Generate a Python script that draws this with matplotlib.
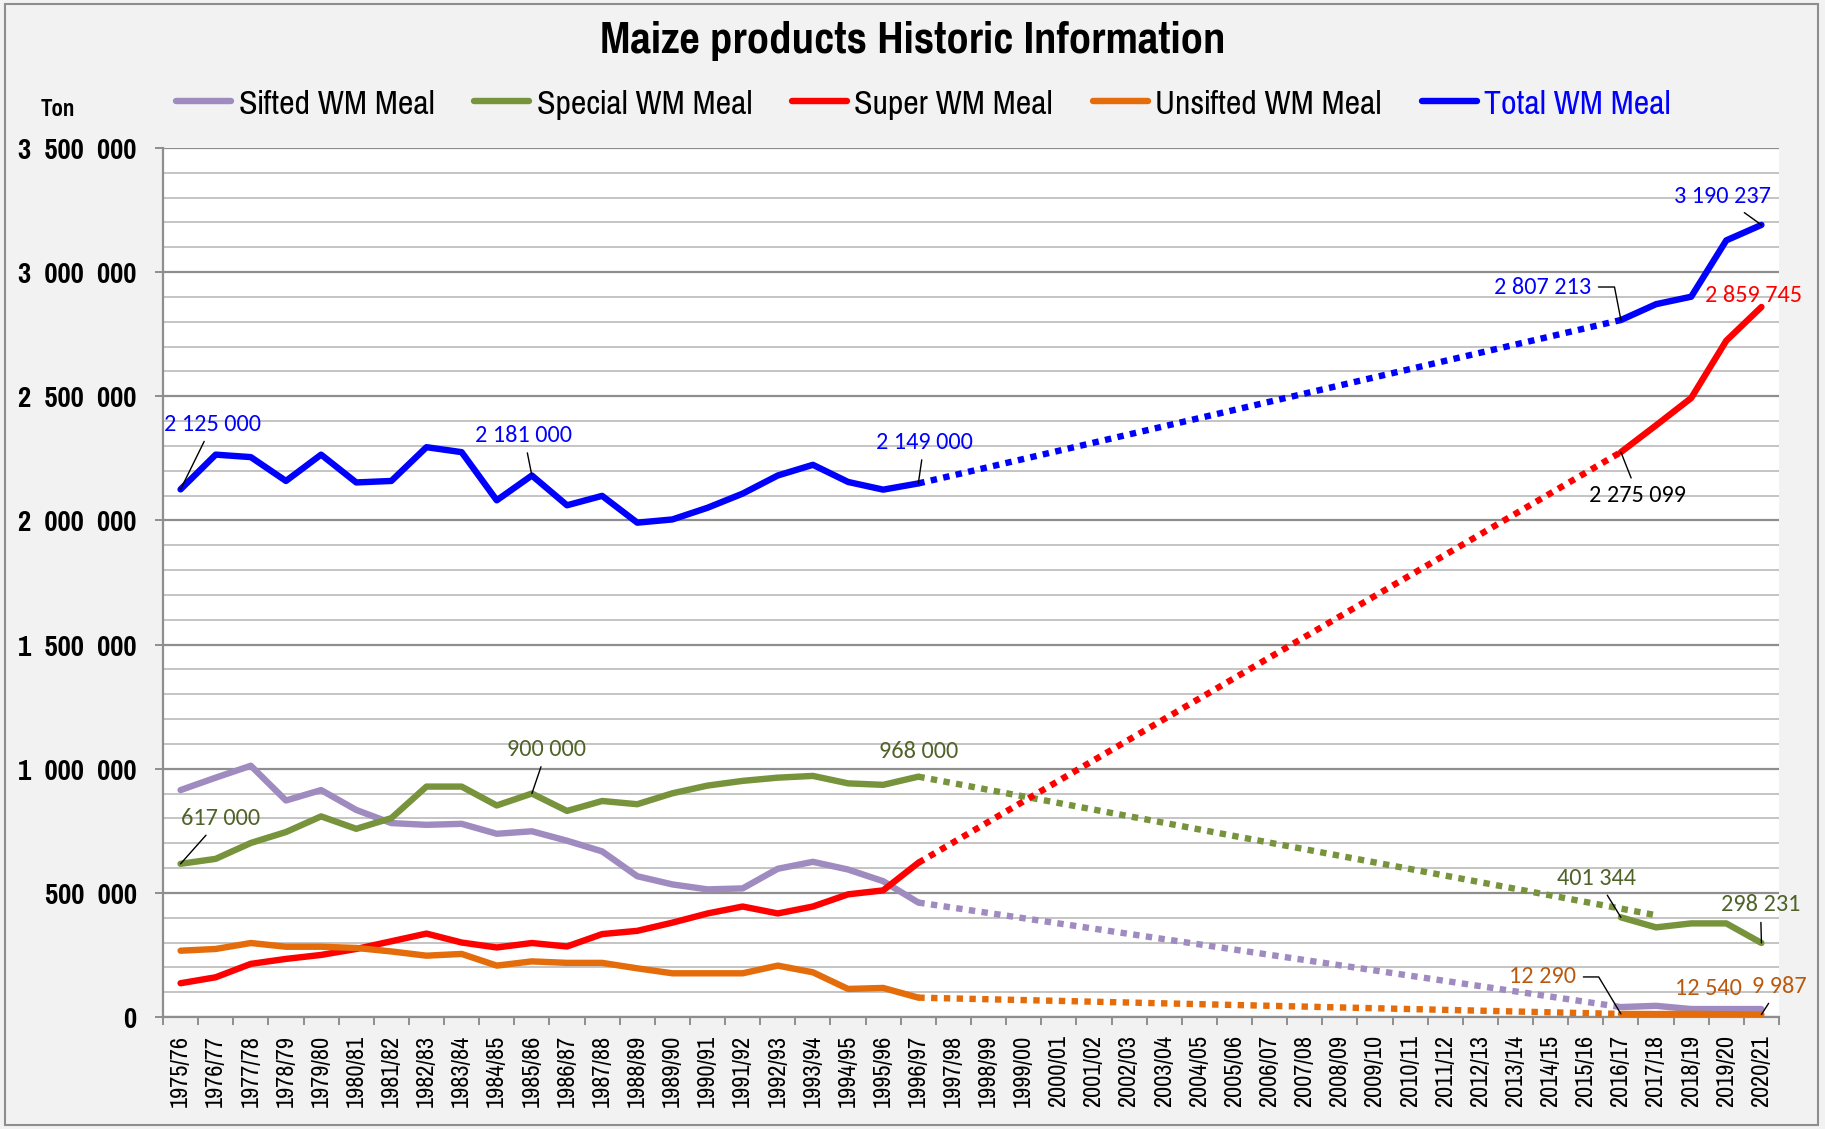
import numpy as np
import matplotlib.pyplot as plt
import matplotlib.font_manager as fm
from matplotlib.patches import Rectangle

nan = np.nan

# season labels
seasons = ['1975/76', '1976/77', '1977/78', '1978/79', '1979/80', '1980/81', '1981/82', '1982/83',
           '1983/84', '1984/85', '1985/86', '1986/87', '1987/88', '1988/89', '1989/90', '1990/91',
           '1991/92', '1992/93', '1993/94', '1994/95', '1995/96', '1996/97', '1997/98', '1998/99',
           '1999/00', '2000/01', '2001/02', '2002/03', '2003/04', '2004/05', '2005/06', '2006/07',
           '2007/08', '2008/09', '2009/10', '2010/11', '2011/12', '2012/13', '2013/14', '2014/15',
           '2015/16', '2016/17', '2017/18', '2018/19', '2019/20', '2020/21']

gap = [nan] * 19  # no data 1997/98 - 2015/16

sifted_wm = [914000, 964000, 1012000, 872000, 914000, 834000, 781000, 774000, 778000, 738000, 748000,
             710000, 667000, 567000, 534000, 514000, 518000, 597000, 625000, 594000, 547000, 461000] \
    + gap + [40000, 45000, 32000, 32000, 32000]
special_wm = [617000, 637000, 701000, 745000, 808000, 758000, 801000, 928000, 928000, 852000, 900000,
              830000, 870000, 857000, 901000, 932000, 951000, 964000, 971000, 941000, 935000, 968000] \
    + gap + [401344, 361000, 377000, 377000, 298231]
super_wm = [136000, 160000, 214000, 234000, 250000, 274000, 305000, 336000, 300000, 280000, 298000,
            284000, 334000, 347000, 380000, 417000, 445000, 417000, 445000, 494000, 510000, 621000] \
    + gap + [2275099, 2383000, 2493000, 2724000, 2859745]
unsifted_wm = [267000, 274000, 298000, 283000, 283000, 278000, 264000, 247000, 254000, 207000, 224000,
               218000, 218000, 196000, 176000, 176000, 176000, 207000, 180000, 113000, 117000, 78000] \
    + gap + [12290, 12000, 12540, 11000, 9987]
total_wm = [2125000, 2265000, 2255000, 2159000, 2265000, 2153000, 2159000, 2295000, 2275000, 2081000, 2181000,
            2061000, 2099000, 1991000, 2004000, 2051000, 2108000, 2181000, 2224000, 2155000, 2124000, 2149000] \
    + gap + [2807213, 2871000, 2901000, 3128000, 3190237]

names = ['Sifted WM Meal', 'Special WM Meal', 'Super WM Meal', 'Unsifted WM Meal', 'Total WM Meal']
series = [sifted_wm, special_wm, super_wm, unsifted_wm, total_wm]
colors = ['#A08BC0', '#77933C', '#FF0000', '#E46C0A', '#0000FF']

# dotted link across the missing years
trend_start = '1996/97'
trend_end_season = ['2016/17', '2017/18', '2016/17', '2016/17', '2016/17']
trend_end_value = [40000, 410000, 2275099, 12290, 2807213]

# data labels: series index, season, text
lbl_series = [4, 4, 4, 4, 4, 2, 2, 1, 1, 1, 1, 1, 3, 3, 3]
lbl_season = ['1975/76', '1985/86', '1996/97', '2016/17', '2020/21', '2020/21', '2016/17',
              '1975/76', '1985/86', '1996/97', '2016/17', '2020/21', '2016/17', '2018/19', '2020/21']
lbl_text = ['2 125 000', '2 181 000', '2 149 000', '2 807 213', '3 190 237', '2 859 745', '2 275 099',
            '617 000', '900 000', '968 000', '401 344', '298 231', '12 290', '12 540', '9 987']
lbl_color = ['#0000FF', '#0000FF', '#0000FF', '#0000FF', '#0000FF', '#FF0000', '#000000',
             '#4F6228', '#4F6228', '#4F6228', '#4F6228', '#4F6228', '#B8590F', '#B8590F', '#B8590F']
# label placement (pixels from the point) and leader style
lbl_offset = [(32, 65), (-8, 40), (6, 41), (-78, 33), (-39, 28), (-8, 11), (17, -43),
              (40, 45), (15, 44), (0, 25), (-24, 39), (-1, 38), (-78, 37), (17, 25), (18, 28)]
lbl_leader = ['line', 'line', 'line', 'angle101', 'line', None, 'line',
              'line', 'line', None, 'line', 'line', 'angle121', None, 'line']


def pick(cands, bold=False):
    for c in cands:
        ws = [f.weight for f in fm.fontManager.ttflist if f.name == c]
        ws = [w if isinstance(w, int) else (700 if w == 'bold' else 400) for w in ws]
        if ws and (not bold or max(ws) >= 600):
            return c
    return 'DejaVu Sans'


narrow = [pick(['Liberation Sans Narrow', 'Arial Narrow', 'Pragati Narrow', 'PT Sans Narrow',
                'Archivo Narrow', 'Roboto Condensed']), 'DejaVu Sans']
narrow_b = [pick(['Liberation Sans Narrow', 'Arial Narrow', 'Pragati Narrow', 'PT Sans Narrow',
                  'Roboto Condensed', 'Asap Condensed'], bold=True), 'DejaVu Sans']
calib = [pick(['Carlito', 'Calibri', 'Lato']), 'DejaVu Sans']

fig = plt.figure(figsize=(18.25, 11.29), dpi=100, facecolor='#F2F2F2')
ax = fig.add_axes([163 / 1825, 112 / 1129, 1616 / 1825, 869 / 1129])
ax.set_facecolor('white')

x = np.arange(len(seasons))
handles = []
for name, vals, col in zip(names, series, colors):
    h, = ax.plot(x, vals, color=col, lw=4.6, solid_joinstyle='round', solid_capstyle='round',
                 label=name, zorder=3)
    handles.append(h)

i0 = seasons.index(trend_start)
for vals, col, es, ev in zip(series, colors, trend_end_season, trend_end_value):
    i1 = seasons.index(es)
    ax.plot([i0, i1], [vals[i0], ev], color=col, lw=4.6, linestyle=(0, (1, 1)),
            dash_capstyle='butt', zorder=3)

# axes styling
ax.set_xlim(-0.5, len(seasons) - 0.5)
ax.set_ylim(0, 3500000)
yt = np.arange(0, 3500001, 500000)
ax.set_yticks(yt)
ax.set_yticklabels([f'{v:,}'.replace(',', '  ') for v in yt], fontfamily=narrow_b,
                   fontweight='bold', fontsize=22.5)
ax.set_yticks(np.arange(0, 3500001, 100000), minor=True)
ax.grid(which='minor', axis='y', color='#C4C4C4', lw=1.4, zorder=0)
ax.grid(which='major', axis='y', color='#8E8E8E', lw=1.6, zorder=0)
ax.set_axisbelow(True)
ax.tick_params(axis='y', which='major', length=6, width=1.4, color='#8E8E8E', pad=13)
ax.tick_params(axis='y', which='minor', length=0)

ax.set_xticks(x)
ax.set_xticklabels(seasons, rotation=90, fontfamily=narrow, fontsize=19)
ax.set_xticks(np.arange(-0.5, len(seasons), 1), minor=True)
ax.tick_params(axis='x', which='major', length=0, pad=13)
ax.tick_params(axis='x', which='minor', length=6, width=1.4, color='#8E8E8E')

for s in ['top', 'right']:
    ax.spines[s].set_visible(False)
for s in ['left', 'bottom']:
    ax.spines[s].set_color('#8E8E8E')
    ax.spines[s].set_linewidth(1.6)

# data labels
for si, season, txt, col, off, lead in zip(lbl_series, lbl_season, lbl_text, lbl_color,
                                           lbl_offset, lbl_leader):
    xi = seasons.index(season)
    yv = series[si][xi]
    kw = {}
    if lead == 'line':
        kw['arrowprops'] = dict(arrowstyle='-', color='black', lw=1.0, shrinkA=3, shrinkB=0)
    elif lead is not None:
        ang = int(lead[5:])
        kw['arrowprops'] = dict(arrowstyle='-', color='black', lw=1.0, shrinkA=3, shrinkB=0,
                                connectionstyle=f'angle,angleA=0,angleB={ang},rad=0')
    ax.annotate(txt, xy=(xi, yv), xytext=off, textcoords='offset pixels', ha='center', va='center',
                color=col, fontsize=17.5, fontfamily=calib, zorder=5, annotation_clip=False, **kw)

# title, unit and legend
fig.text(0.5, 0.964, 'Maize products Historic Information', ha='center', va='center',
         fontsize=35, fontweight='bold', fontfamily=narrow_b)
fig.text(58 / 1825, 1 - 110 / 1129, 'Ton', ha='center', va='center', fontsize=18,
         fontweight='bold', fontfamily=narrow_b)
leg = fig.legend(handles=handles, loc='center', bbox_to_anchor=(0.506, 0.908), ncol=5, frameon=False,
                 prop={'family': narrow, 'size': 26.5}, handlelength=1.5, handletextpad=0.2,
                 columnspacing=1.08)
leg.get_texts()[4].set_color('#0000FF')

fig.add_artist(Rectangle((5 / 1825, 4 / 1129), 1813 / 1825, 1121 / 1129, transform=fig.transFigure,
                         fill=False, ec='#8E8E8E', lw=1.5))

plt.savefig('out.png', dpi=100, facecolor=fig.get_facecolor())
